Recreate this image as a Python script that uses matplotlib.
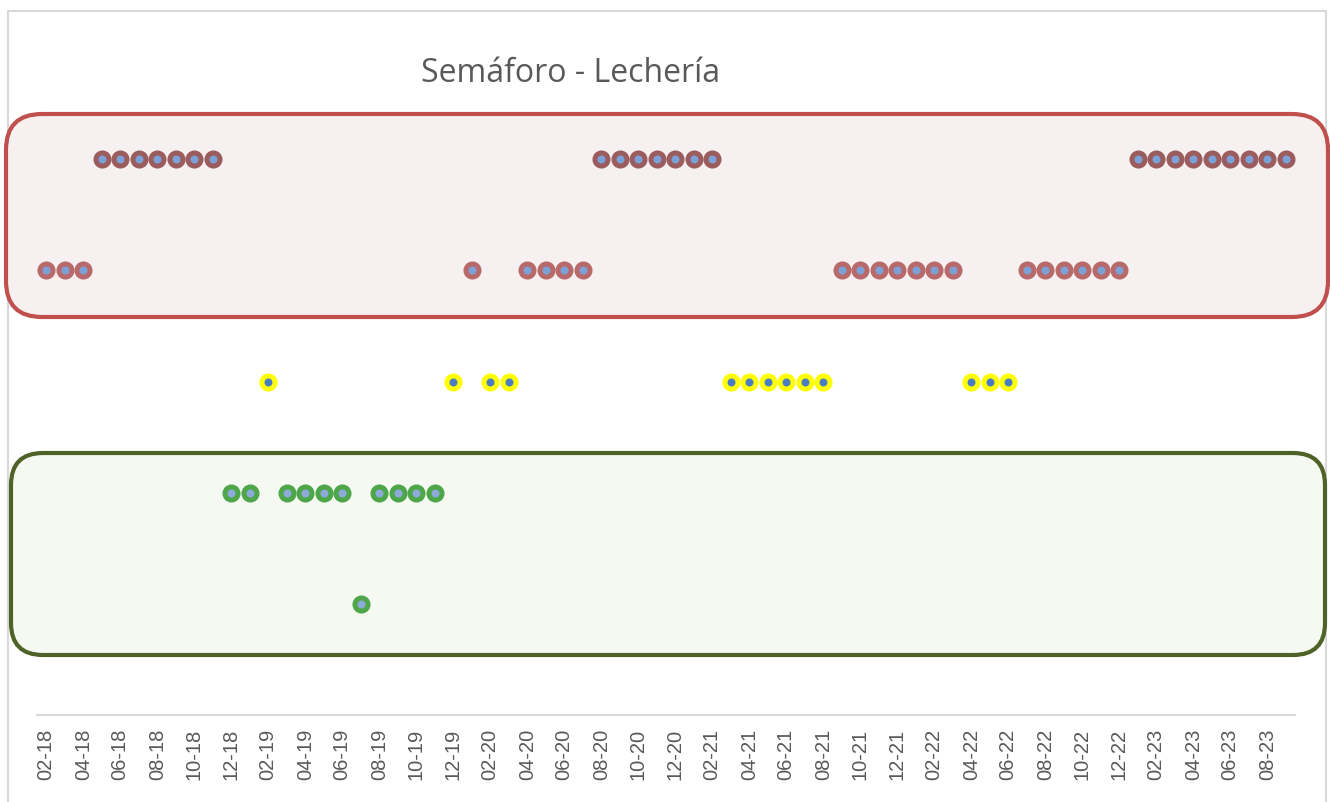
import numpy as np
import matplotlib.pyplot as plt
from matplotlib.patches import FancyBboxPatch, Rectangle

# meses 02-18 .. 09-23 y nivel del semaforo (5 = rojo oscuro ... 1 = verde)
meses = ["%02d-%02d" % ((m % 12) + 1, 18 + m // 12) for m in range(1, 69)]
nivel = ([4] * 3 + [5] * 7 + [2] * 2 + [3] + [2] * 4 + [1] + [2] * 4 + [3] + [4]
         + [3] * 2 + [4] * 4 + [5] * 7 + [3] * 6 + [4] * 7 + [3] * 3 + [4] * 6 + [5] * 9)

borde = {5: "#9a5c5c", 4: "#b86a6a", 3: "#ffff00", 2: "#4ea64a", 1: "#4ea64a"}
relleno = {5: "#7ba2d8", 4: "#7ba2d8", 3: "#4a7cc4", 2: "#8eaadb", 1: "#8eaadb"}

W, H, DPI = 1330, 802, 100
fig = plt.figure(figsize=(W / DPI, H / DPI), dpi=DPI)

# marco gris del grafico
fig.patches.append(Rectangle((8, -5), 1318, H - 11 + 5, transform=None,
                             fill=False, edgecolor="#d9d9d9", linewidth=1.5, zorder=-3))

# cajas redondeadas (pixeles, origen abajo)
fig.patches.append(FancyBboxPatch((6, H - 317), 1322, 203, transform=None,
                                  boxstyle="round,pad=0,rounding_size=36",
                                  facecolor="#f7f0f0", edgecolor="#c0504d",
                                  linewidth=3, zorder=-2))
fig.patches.append(FancyBboxPatch((11, H - 655), 1314, 202, transform=None,
                                  boxstyle="round,pad=0,rounding_size=32",
                                  facecolor="#f6f9f1", edgecolor="#4f6228",
                                  linewidth=3, zorder=-2))

ax = fig.add_axes([37 / W, 1 - 715 / H, (1295 - 37) / W, (715 - 48) / H])
ax.set_facecolor("none")

x = np.arange(len(meses))
y = np.array(nivel)
for lv in [5, 4, 3, 2, 1]:
    sel = y == lv
    ax.plot(x[sel], y[sel], linestyle="none", marker="o", markersize=9.4,
            markerfacecolor=relleno[lv], markeredgecolor=borde[lv],
            markeredgewidth=3.6)

ax.set_xlim(-0.5, len(meses) - 0.5)
ax.set_ylim(0, 6)
ax.set_yticks([])
for s in ["top", "right", "left"]:
    ax.spines[s].set_visible(False)
ax.spines["bottom"].set_color("#d9d9d9")
ax.spines["bottom"].set_linewidth(1.5)

ax.set_xticks(x[::2])
ax.set_xticklabels(meses[::2], rotation=90, fontsize=14.5,
                   family="Liberation Sans", color="#595959")
ax.tick_params(axis="x", length=0, pad=10)

fig.text(571 / W, 1 - 73 / H, "Semáforo - Lechería", ha="center", va="center",
         fontsize=23, family="Open Sans", color="#595959")

fig.savefig("out.png", dpi=DPI)
